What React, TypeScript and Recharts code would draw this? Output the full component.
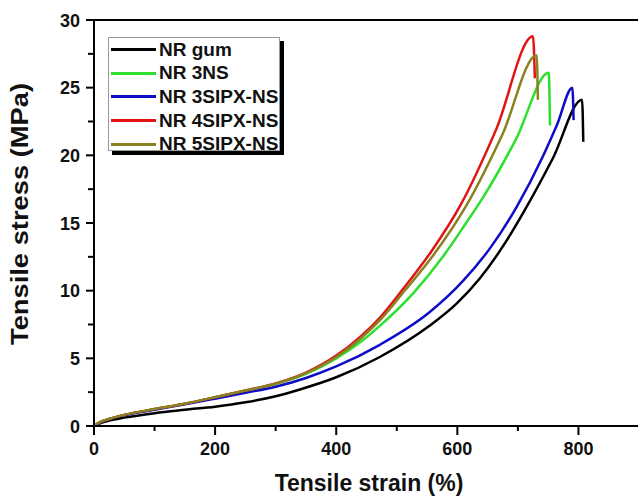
import React from 'react';
import { LineChart, Line, XAxis, YAxis, ReferenceLine, Legend } from 'recharts';

const FONT = 'Arial, "Liberation Sans", sans-serif';

const seriesNames = ['NR gum', 'NR 3NS', 'NR 3SIPX-NS', 'NR 4SIPX-NS', 'NR 5SIPX-NS'];
const seriesColors = ['#000000', '#2ee02e', '#0d0dc8', '#e01414', '#8a8221'];

const strainGum = [0, 10, 25, 50, 100, 150, 200, 250, 300, 340, 400, 472, 554, 600, 637, 680, 712, 758, 806, 808];
const stressGum = [0, 0.2, 0.4, 0.62, 0.95, 1.2, 1.43, 1.75, 2.2, 2.7, 3.6, 5.1, 7.4, 9.1, 10.9, 13.6, 16.0, 19.8, 24.1, 21.0];

const strain3NS = [0, 10, 25, 50, 100, 150, 200, 250, 300, 350, 400, 440, 472, 527, 576, 610, 644, 697, 751, 753];
const stress3NS = [0, 0.28, 0.52, 0.82, 1.25, 1.65, 2.12, 2.6, 3.1, 3.85, 5.0, 6.2, 7.4, 9.8, 12.5, 14.7, 17.0, 21.2, 26.1, 22.2];

const strain3SIPX = [0, 10, 25, 50, 100, 150, 200, 250, 300, 350, 400, 472, 554, 609, 655, 698, 741, 765, 790, 792];
const stress3SIPX = [0, 0.25, 0.5, 0.8, 1.2, 1.6, 2.02, 2.45, 2.9, 3.55, 4.4, 6.0, 8.4, 10.7, 13.2, 16.2, 19.9, 22.3, 25.0, 22.6];

const strain4SIPX = [0, 10, 25, 50, 100, 150, 200, 250, 300, 350, 400, 440, 472, 510, 557, 605, 664, 725, 728];
const stress4SIPX = [0, 0.28, 0.52, 0.82, 1.25, 1.65, 2.12, 2.62, 3.15, 3.95, 5.2, 6.6, 8.0, 10.1, 12.9, 16.3, 21.9, 28.8, 25.7];

const strain5SIPX = [0, 10, 25, 50, 100, 150, 200, 250, 300, 350, 400, 440, 472, 515, 560, 615, 675, 731, 733];
const stress5SIPX = [0, 0.28, 0.52, 0.82, 1.25, 1.65, 2.12, 2.62, 3.12, 3.9, 5.1, 6.45, 7.8, 10.1, 12.6, 16.3, 21.6, 27.4, 24.1];

const xTicks = [0, 100, 200, 300, 400, 500, 600, 700, 800, 900];
const yTicks = [0, 2.5, 5, 7.5, 10, 12.5, 15, 17.5, 20, 22.5, 25, 27.5, 30];

const toPoints = (xs: number[], ys: number[]) => xs.map((x, i) => ({ x, y: ys[i] }));

const series = [
  toPoints(strainGum, stressGum),
  toPoints(strain3NS, stress3NS),
  toPoints(strain3SIPX, stress3SIPX),
  toPoints(strain4SIPX, stress4SIPX),
  toPoints(strain5SIPX, stress5SIPX),
];

const YTick = (props: any) => {
  const { x, y, payload } = props;
  const v = payload.value;
  const major = v % 5 === 0;
  return (
    <g>
      <line x1={x - (major ? 8 : 6)} x2={x} y1={y} y2={y} stroke="#000" strokeWidth={2} />
      {major && (
        <text x={x - 14} y={y} dy={6.5} textAnchor="end" fontFamily={FONT} fontWeight="bold" fontSize={18} fill="#111">
          {v}
        </text>
      )}
    </g>
  );
};

const XTick = (props: any) => {
  const { x, y, payload } = props;
  const v = payload.value;
  const major = v % 200 === 0;
  return (
    <g>
      <line x1={x} x2={x} y1={y} y2={y + (major ? 9 : 5)} stroke="#000" strokeWidth={2} />
      {major && (
        <text x={x} y={y + 29} textAnchor="middle" fontFamily={FONT} fontWeight="bold" fontSize={18} fill="#111">
          {v}
        </text>
      )}
    </g>
  );
};

const LegendBox = () => (
  <div
    style={{
      width: 172,
      height: 114,
      boxSizing: 'border-box',
      border: '1px solid #999',
      background: '#fff',
      boxShadow: '4px 4px 0 #000',
      fontFamily: FONT,
    }}
  >
    {seriesNames.map((n, i) => (
      <div key={n} style={{ display: 'flex', alignItems: 'center', height: 23.6 }}>
        <div style={{ marginLeft: 2, width: 45, height: 3, background: seriesColors[i] }} />
        <span style={{ marginLeft: 3, fontSize: 19, fontWeight: 'bold', color: '#111', lineHeight: '20px' }}>{n}</span>
      </div>
    ))}
  </div>
);

export default function App() {
  return (
    <div style={{ position: 'absolute', left: 0, top: 0, width: 638, height: 496, overflow: 'hidden', background: '#fff' }}>
      <LineChart width={650} height={496} margin={{ top: 20, right: 11, bottom: 0, left: 0 }}>
        <XAxis
          dataKey="x"
          type="number"
          domain={[0, 900]}
          ticks={xTicks}
          interval={0}
          tickSize={0}
          tickMargin={0}
          height={70}
          allowDataOverflow
          axisLine={{ stroke: '#000', strokeWidth: 2 }}
          tickLine={false}
          tick={<XTick />}
          label={{
            content: () => (
              <text x={369} y={491} textAnchor="middle" fontFamily={FONT} fontWeight="bold" fontSize={23} fill="#111">
                Tensile strain (%)
              </text>
            ),
          }}
        />
        <YAxis
          dataKey="y"
          type="number"
          domain={[0, 30]}
          ticks={yTicks}
          interval={0}
          tickSize={0}
          tickMargin={0}
          width={94}
          allowDataOverflow
          axisLine={{ stroke: '#000', strokeWidth: 2 }}
          tickLine={false}
          tick={<YTick />}
          label={{
            content: () => (
              <text
                x={28}
                y={214}
                transform="rotate(-90 28 214)"
                textAnchor="middle"
                fontFamily={FONT}
                fontWeight="bold"
                fontSize={24}
                textLength={262}
                lengthAdjust="spacingAndGlyphs"
                fill="#111"
              >
                Tensile stress (MPa)
              </text>
            ),
          }}
        />
        <ReferenceLine y={30} stroke="#000" strokeWidth={2} />
        {series.map((pts, i) => (
          <Line
            key={seriesNames[i]}
            data={pts}
            dataKey="y"
            name={seriesNames[i]}
            type="monotone"
            stroke={seriesColors[i]}
            strokeWidth={2.5}
            dot={false}
            activeDot={false}
            isAnimationActive={false}
          />
        ))}
        <Legend
          layout="vertical"
          align="center"
          verticalAlign="middle"
          wrapperStyle={{ left: 108, top: 37, width: 172, height: 114 }}
          content={() => <LegendBox />}
        />
      </LineChart>
    </div>
  );
}
